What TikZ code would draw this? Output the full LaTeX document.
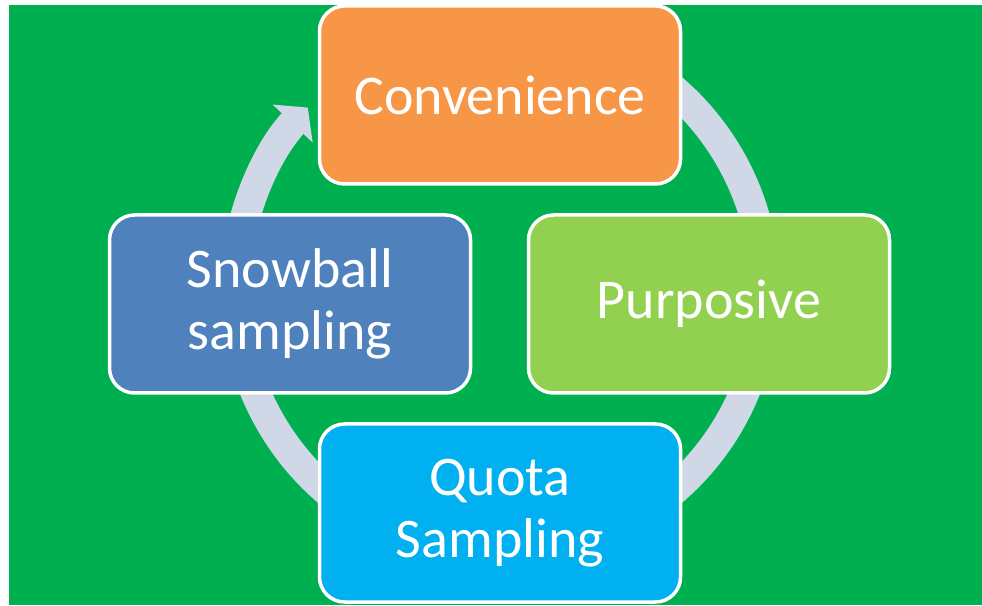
\documentclass[tikz,border=0pt]{standalone}
\usepackage{fontspec}
\setmainfont{Carlito}
\usepackage{tikz}
\usetikzlibrary{arrows.meta}

\definecolor{bggreen}{RGB}{0,176,80}
\definecolor{ringgray}{RGB}{208,216,232}
\definecolor{convorange}{RGB}{247,150,70}
\definecolor{purpgreen}{RGB}{146,208,80}
\definecolor{snowblue}{RGB}{79,129,189}
\definecolor{quotablue}{RGB}{0,176,240}

\begin{document}
\begin{tikzpicture}[x=1pt, y=1pt]
    \tikzstyle{method} = [
        draw=white,
        line width=3.5pt,
        rounded corners=25pt,
        minimum width=361pt,
        minimum height=178pt,
        text=white,
        align=center,
        font=\fontsize{56}{62}\selectfont
    ]

    \useasboundingbox (0,0) rectangle (982,605);
    \fill[bggreen] (9,0) rectangle (982,600);

    % cycle ring, mostly hidden behind the boxes
    \coordinate (c) at (500,315);
    \draw[ringgray, line width=30pt, -{Triangle[width=54pt,length=22pt]}]
        ([shift={(80:265)}]c) arc[start angle=80, end angle=-223.5, radius=265];

    \node[method, fill=convorange] (conv)  at (500,510) {Convenience};
    \node[method, fill=purpgreen]  (purp)  at (709,301) {Purposive};
    \node[method, fill=snowblue]   (snow)  at (290,301) {Snowball\\sampling};
    \node[method, fill=quotablue]  (quota) at (500,92)  {Quota\\Sampling};
\end{tikzpicture}
\end{document}
